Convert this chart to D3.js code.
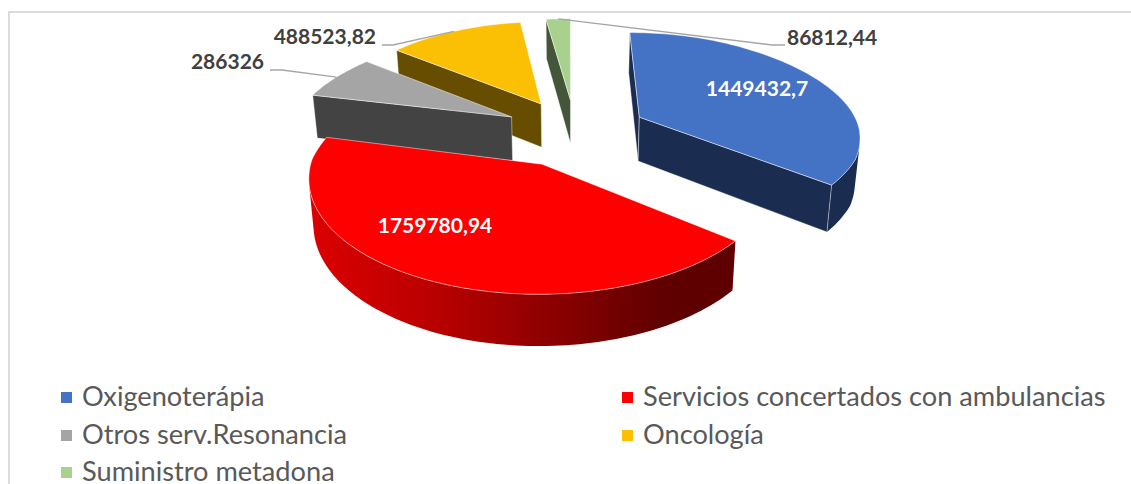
<!DOCTYPE html>
<html><head><meta charset="utf-8">
<script src="https://cdnjs.cloudflare.com/ajax/libs/d3/7.8.5/d3.min.js"></script>
<style>html,body{margin:0;padding:0;background:#fff;overflow:hidden}svg{display:block}text{font-family:Lato,"Open Sans",sans-serif}</style>
</head><body><svg id="c" width="1131" height="484"></svg>
<script>
const categories = ["Oxigenoterápia","Servicios concertados con ambulancias","Otros serv.Resonancia","Oncología","Suministro metadona"];
const values = [1449432.7,1759780.94,286326,488523.82,86812.44];
const labels = ["1449432,7","1759780,94","286326","488523,82","86812,44"];
const topColors = ["#4472C4","#FF0000","#A5A5A5","#FBBF04","#A9D18E"];
const sideColors = ["#1A2C4F","url(#redSide)","#434343","#664D00","#44563A"];

const W=1131,H=484, CX=570, CY=130, R=224, EXPLODE=74, X0=5.5, Z0=-2, D=2100;
const svg=d3.select("#c");
const defs=svg.append("defs");
const g=defs.append("linearGradient").attr("id","redSide").attr("gradientUnits","userSpaceOnUse").attr("x1",310).attr("x2",740).attr("y1",0).attr("y2",0);
[[0,"#DC0000"],[0.3,"#B80000"],[0.6,"#860000"],[0.82,"#600000"],[1,"#5E0000"]].forEach(s=>g.append("stop").attr("offset",s[0]).attr("stop-color",s[1]));

// Perspective projection of the pie's ground plane onto the screen
function project(x,z){
  const s=D/(D+z);
  const f=1-0.07*Math.max(0,Math.min(1,(z+60)/265));
  const H2=z<0?1015:902;
  return [CX+x*s*f, CY+H2*(s-1)];
}
function drop(p){ return [CX+(p[0]-CX)*0.982, p[1]+0.0445*(p[1]+870)]; }

const pie=d3.pie().sort(null).value(d=>d);
const arcs=pie(values).map((a,i)=>{
  const mid=(a.startAngle+a.endAngle)/2;
  const ax=X0+EXPLODE*Math.sin(mid), az=Z0+EXPLODE*Math.cos(mid);
  const at=t=>project(ax+R*Math.sin(t), az+R*Math.cos(t));
  const n=Math.max(6,Math.round((a.endAngle-a.startAngle)*40));
  const rim=d3.range(n+1).map(k=>at(a.startAngle+(a.endAngle-a.startAngle)*k/n));
  return {i,mid,az,apex:project(ax,az),rim,midPt:at(mid)};
});
const line=d3.line();
const area=pts=>d3.polygonArea(pts);

const layer=svg.append("g");
// back to front
[...arcs].sort((a,b)=>b.az-a.az).forEach(s=>{
  const gg=layer.append("g");
  const side=sideColors[s.i];
  const first=s.rim[0], last=s.rim[s.rim.length-1];
  const wall=(p,q)=>{ // radial wall
    const poly=[p,q,drop(q),drop(p)];
    gg.append("path").attr("d",line(poly)+"Z").attr("fill",side)
      .attr("stroke","#fff").attr("stroke-opacity",.55).attr("stroke-width",.8);
  };
  // outer wall
  let run=[];
  const flush=()=>{ if(run.length>1){
      const poly=run.concat(run.map(drop).reverse());
      gg.append("path").attr("d",line(poly)+"Z").attr("fill",side);
    } run=[]; };
  for(let k=0;k<s.rim.length-1;k++){
    const p=s.rim[k], q=s.rim[k+1];
    if(area([p,q,drop(q),drop(p)])>0){ if(!run.length) run.push(p); run.push(q);} else flush();
  }
  flush();
  // a radial wall is seen when the camera is on its outer side
  if(area([s.apex,first,drop(first),drop(s.apex)])>0) wall(s.apex,first);
  if(area([last,s.apex,drop(s.apex),drop(last)])>0) wall(s.apex,last);
  gg.append("path").attr("d",line([s.apex,...s.rim])+"Z").attr("fill",topColors[s.i])
    .attr("stroke","#fff").attr("stroke-opacity",.6).attr("stroke-width",.8).attr("stroke-linejoin","round");
});

// Leaders
const leader=(i,elbow,end)=>svg.append("path").attr("d",line([arcs[i].midPt,elbow,end]))
  .attr("fill","none").attr("stroke","#A6A6A6").attr("stroke-width",1.3);
leader(2,[282,70],[270,70]);
leader(3,[393,45],[382,45]);
leader(4,[772,45],[785,45]);

// Data labels
const lab=(i,x,y,anchor,fill)=>svg.append("text").attr("x",x).attr("y",y).attr("text-anchor",anchor)
  .attr("font-size",21).attr("font-weight",700).attr("fill",fill).text(labels[i]);
lab(0,757,96,"middle","#fff");
lab(1,435,233,"middle","#fff");
lab(2,264,69,"end","#404040");
lab(3,376,44,"end","#404040");
lab(4,787,45,"start","#404040");

// Legend
const legendPos=[[61,406],[622,406],[61,444],[622,444],[61,481]];
const legendBox=[403,403,441,441,478];
categories.forEach((c,i)=>{
  const [x,y]=legendPos[i];
  svg.append("rect").attr("x",x).attr("y",legendBox[i]-11).attr("width",11).attr("height",11).attr("fill",topColors[i]);
  svg.append("text").attr("x",x+21).attr("y",y).attr("font-size",27.2).attr("fill","#595959").text(c);
});

// Frame
svg.append("path").attr("d","M1131 12H9V484").attr("fill","none").attr("stroke","#DCDCDC").attr("stroke-width",2);
</script></body></html>
